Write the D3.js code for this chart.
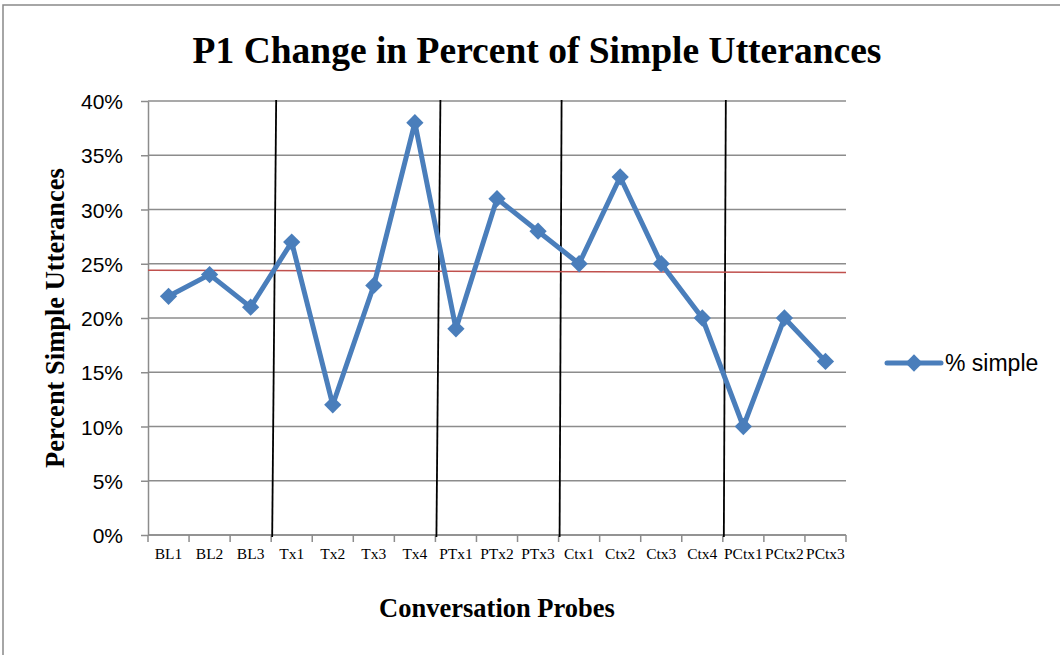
<!DOCTYPE html>
<html>
<head>
<meta charset="utf-8">
<script src="https://cdn.jsdelivr.net/npm/d3@7"></script>
<style>
  body { margin: 0; background: #fff; }
  svg { display: block; }
</style>
</head>
<body>
<div id="chart"></div>
<script>
// data
var probes = ["BL1","BL2","BL3","Tx1","Tx2","Tx3","Tx4","PTx1","PTx2","PTx3","Ctx1","Ctx2","Ctx3","Ctx4","PCtx1","PCtx2","PCtx3"];
var simple = [22, 24, 21, 27, 12, 23, 38, 19, 31, 28, 25, 33, 25, 20, 10, 20, 16];
var yTicks = [0, 5, 10, 15, 20, 25, 30, 35, 40];
var phaseBreaks = [3, 7, 10, 14];      // phase line drawn before these probe indexes
var redLine = [24.4, 24.2];            // level line, left end / right end

var W = 1060, H = 655;
var margin = {top: 101, right: 214, bottom: 120, left: 148};
var width = W - margin.left - margin.right;
var height = H - margin.top - margin.bottom;

var svg = d3.select("#chart").append("svg")
	.attr("width", W)
	.attr("height", H);

// chart frame, runs past the right and bottom edges
svg.append("rect")
	.attr("x", 3).attr("y", 5)
	.attr("width", 1200).attr("height", 800)
	.style("fill", "none")
	.style("stroke", "#898989")
	.style("stroke-width", 1.5);

var g = svg.append("g")
	.attr("transform", "translate(" + margin.left + "," + margin.top + ")");

var x = d3.scaleBand().domain(probes).range([0, width]);
var y = d3.scaleLinear().domain([0, 40]).range([height, 0]);

// horizontal gridlines
g.append("g")
	.selectAll("line")
	.data(yTicks)
	.enter().append("line")
	.attr("x1", 0).attr("x2", width)
	.attr("y1", function(d) { return y(d); })
	.attr("y2", function(d) { return y(d); })
	.style("stroke", "#8c8c8c")
	.style("stroke-width", 1.5);

// left axis
var axisLeft = d3.axisLeft(y).tickValues(yTicks).tickSize(7).tickSizeOuter(0)
	.tickFormat(function(d) { return d + "%"; });
var gl = g.append("g").call(axisLeft);
gl.select(".domain").style("stroke", "#8c8c8c").style("stroke-width", 1.5);
gl.selectAll(".tick line").style("stroke", "#8c8c8c").style("stroke-width", 1.5);
gl.selectAll(".tick text")
	.attr("x", -25)
	.attr("dy", "0.36em")
	.style("font", "21px 'Liberation Sans', Arial, sans-serif")
	.style("fill", "#000");

// bottom axis: ticks sit between categories
var gb = g.append("g").attr("transform", "translate(0," + height + ")");
gb.append("line")
	.attr("x1", 0).attr("x2", width)
	.style("stroke", "#8c8c8c").style("stroke-width", 1.5);
gb.selectAll("line.tk")
	.data(d3.range(probes.length + 1))
	.enter().append("line")
	.attr("class", "tk")
	.attr("x1", function(i) { return i * x.step(); })
	.attr("x2", function(i) { return i * x.step(); })
	.attr("y1", 0).attr("y2", 7)
	.style("stroke", "#8c8c8c").style("stroke-width", 1.5);
gb.selectAll("text")
	.data(probes)
	.enter().append("text")
	.attr("x", function(d) { return x(d) + x.bandwidth() / 2; })
	.attr("y", 24)
	.attr("text-anchor", "middle")
	.style("font", "15.5px 'Liberation Serif', 'Times New Roman', serif")
	.text(function(d) { return d; });

// phase change lines (hand drawn, slightly leaning)
var lean = [4, 4, 2, 2];
g.selectAll("line.phase")
	.data(phaseBreaks)
	.enter().append("line")
	.attr("class", "phase")
	.attr("x1", function(d, i) { return d * x.step() + 1 + lean[i]; })
	.attr("x2", function(d, i) { return d * x.step() + 1; })
	.attr("y1", y(40) - 1)
	.attr("y2", y(0) + 2)
	.style("stroke", "#000")
	.style("stroke-width", 1.8);

// red level line
g.append("line")
	.attr("x1", 0).attr("x2", width)
	.attr("y1", y(redLine[0])).attr("y2", y(redLine[1]))
	.style("stroke", "#c0504d")
	.style("stroke-width", 1.5);

// series
var cx = function(d, i) { return x(probes[i]) + x.bandwidth() / 2; };
var line = d3.line()
	.x(cx)
	.y(function(d) { return y(d); });

g.append("path")
	.datum(simple)
	.attr("d", line)
	.style("fill", "none")
	.style("stroke", "#4a7ebb")
	.style("stroke-width", 5)
	.style("stroke-linejoin", "round");

var diamond = d3.symbol().type(d3.symbolDiamond2).size(190);
g.selectAll("path.mk")
	.data(simple)
	.enter().append("path")
	.attr("class", "mk")
	.attr("d", diamond)
	.attr("transform", function(d, i) { return "translate(" + cx(d, i) + "," + y(d) + ")"; })
	.style("fill", "#4a7ebb");

// titles
svg.append("text")
	.attr("x", 537).attr("y", 63)
	.attr("text-anchor", "middle")
	.style("font", "bold 37.5px 'Liberation Serif', 'Times New Roman', serif")
	.text("P1 Change in Percent of Simple Utterances");

svg.append("text")
	.attr("transform", "translate(64,318) rotate(-90)")
	.attr("text-anchor", "middle")
	.style("font", "bold 26.5px 'Liberation Serif', 'Times New Roman', serif")
	.text("Percent Simple Utterances");

svg.append("text")
	.attr("x", 497).attr("y", 617)
	.attr("text-anchor", "middle")
	.style("font", "bold 26.5px 'Liberation Serif', 'Times New Roman', serif")
	.text("Conversation Probes");

// legend
var lg = svg.append("g").attr("transform", "translate(887,363)");
lg.append("line")
	.attr("x1", 0).attr("x2", 54)
	.style("stroke", "#4a7ebb").style("stroke-width", 5)
	.style("stroke-linecap", "round");
lg.append("path")
	.attr("d", diamond)
	.attr("transform", "translate(27,0)")
	.style("fill", "#4a7ebb");
lg.append("text")
	.attr("x", 58).attr("y", 8)
	.style("font", "23px 'Liberation Sans', Arial, sans-serif")
	.text("% simple");
</script>
</body>
</html>
